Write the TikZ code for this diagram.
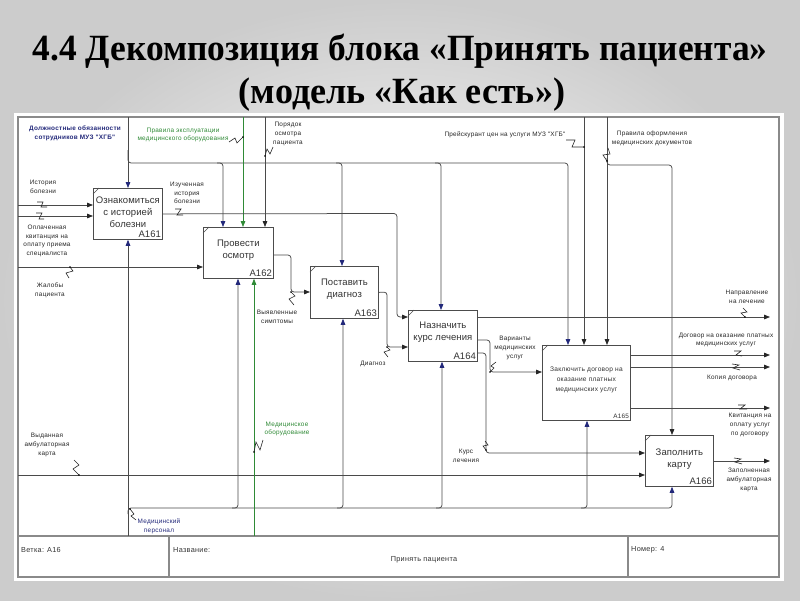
\documentclass[tikz,border=0pt]{standalone}
\usepackage{fontspec}
\usepackage{graphicx}
\setmainfont{Liberation Sans}
\newfontfamily\titlefont{Liberation Serif}
\newfontfamily\lblfont[LetterSpace=4]{Liberation Sans}
\newfontfamily\boxfont[LetterSpace=1]{Liberation Sans}
\usetikzlibrary{arrows.meta}
\definecolor{lnc}{HTML}{4A4A4A}
\definecolor{bluc}{HTML}{22287A}
\definecolor{grnc}{HTML}{2F8A36}
\definecolor{frc}{HTML}{8A8A8A}
\begin{document}
\begin{tikzpicture}[x=1pt,y=-1pt,
 ln/.style={draw=lnc, line width=0.75pt, rounded corners=3pt},
 arr/.style={ln, -{Triangle[length=6pt,width=4.6pt,color=black!85]}},
 barr/.style={ln, -{Triangle[length=6pt,width=4.6pt,color=bluc]}},
 garr/.style={draw=grnc, line width=0.75pt, rounded corners=3pt, -{Triangle[length=6pt,width=4.6pt,color=grnc]}},
 act/.style={draw=black!70, line width=0.8pt, fill=white, inner sep=0pt, anchor=north west},
 btxt/.style={font=\boxfont\fontsize{9.5}{12}\selectfont, align=center, inner sep=0pt, text=black!80},
 stxt/.style={font=\lblfont\fontsize{6.6}{10}\selectfont, align=center, inner sep=0pt, text=black!80},
 num/.style={font=\boxfont\fontsize{9.5}{11}\selectfont, inner sep=1.6pt, anchor=south east, text=black!80},
 snum/.style={font=\lblfont\fontsize{6.4}{8}\selectfont, inner sep=1.6pt, anchor=south east, text=black!80},
 lbl/.style={font=\lblfont\fontsize{6.4}{8.7}\selectfont, align=center, inner sep=0pt, text=black!85},
 blbl/.style={lbl, text=bluc},
 glbl/.style={lbl, text=grnc},
 sq/.style={draw=black!85, line width=0.6pt},
 tb/.style={font=\lblfont\fontsize{7.3}{9}\selectfont, inner sep=0pt, text=black!80},
 frm/.style={draw=frc, line width=1.1pt}
]
\useasboundingbox (0,0) rectangle (800,600);
\shade[inner color=white, outer color=black!20] (0,0) rectangle (800,600);

% title
\node[anchor=base, inner sep=0pt] (title1) at (400,60)
  {\resizebox{735pt}{\height}{\titlefont\bfseries\fontsize{37}{42}\selectfont 4.4 Декомпозиция блока «Принять пациента»}};
\node[anchor=base, inner sep=0pt] (title2) at (402,103)
  {\resizebox{326pt}{\height}{\titlefont\bfseries\fontsize{37}{42}\selectfont (модель «Как есть»)}};

% sheet
\fill[white] (14,113) rectangle (784,581);
\draw[frm] (18,117) rectangle (779,577);
\draw[frm] (18,536) -- (779,536);
\draw[frm] (169,536) -- (169,577);
\draw[frm] (628,536) -- (628,577);
\node[tb, anchor=west] (tbv) at (21,550) {Ветка: A16};
\node[tb, anchor=west] (tbn) at (173,550) {Название:};
\node[tb] (tbp) at (424,560) {Принять пациента};
\node[tb, anchor=west] (tbm) at (631,550) {Номер: 4};

% activity boxes
\node[act, minimum width=69pt, minimum height=51pt] (A161) at (93,188) {};
\node[act, minimum width=70pt, minimum height=51pt] (A162) at (203,227) {};
\node[act, minimum width=68pt, minimum height=52pt] (A163) at (310,266) {};
\node[act, minimum width=69pt, minimum height=51pt] (A164) at (408,310) {};
\node[act, minimum width=88pt, minimum height=75pt] (A165) at (542,345) {};
\node[act, minimum width=68pt, minimum height=51pt] (A166) at (645,435) {};
\foreach \b in {A161,A162,A163,A164,A165,A166}
  \draw[black!70, line width=0.6pt] ([yshift=-6pt]\b.north west) -- ([xshift=6pt]\b.north west);

\node[btxt] (t161) at ([yshift=2pt]A161.center) {Ознакомиться\\с историей\\болезни};
\node[btxt] (t162) at ([yshift=3pt]A162.center) {Провести\\осмотр};
\node[btxt] (t163) at ([yshift=3pt]A163.center) {Поставить\\диагноз};
\node[btxt] (t164) at ([yshift=4pt]A164.center) {Назначить\\курс лечения};
\node[stxt] (t165) at ([yshift=3pt]A165.center) {Заключить договор на\\оказание платных\\медицинских услуг};
\node[btxt] (t166) at ([yshift=2pt]A166.center) {Заполнить\\карту};
\node[num] (n161) at (A161.south east) {A161};
\node[num] (n162) at (A162.south east) {A162};
\node[num] (n163) at (A163.south east) {A163};
\node[num] (n164) at (A164.south east) {A164};
\node[snum] (n165) at (A165.south east) {A165};
\node[num] (n166) at (A166.south east) {A166};

% columns
\coordinate (x128) at (128,0);
\coordinate (x223) at (223,0);
\coordinate (x243) at (243,0);
\coordinate (x265) at (265,0);
\coordinate (x342) at (342,0);
\coordinate (x441) at (441,0);
\coordinate (x568) at (568,0);
\coordinate (x584) at (584,0);
\coordinate (x607) at (607,0);
\coordinate (x672) at (672,0);
\coordinate (x238) at (238,0);
\coordinate (x254) at (254,0);
\coordinate (x343) at (343,0);
\coordinate (x442) at (442,0);
\coordinate (x587) at (587,0);

% controls
\coordinate (c1) at (128,117);
\coordinate (c2) at (243,117);
\coordinate (c3) at (265,117);
\coordinate (c4) at (584,117);
\coordinate (c5) at (607,117);
\draw[barr] (c1) -- (x128 |- A161.north);
\draw[barr] (128,150) |- (568,163) -- (x568 |- A165.north);
\draw[barr] (217,163) -| (x223 |- A162.north);
\draw[barr] (336,163) -| (x342 |- A163.north);
\draw[barr] (435,163) -| (x441 |- A164.north);
\draw[garr] (c2) -- (x243 |- A162.north);
\draw[arr] (c3) -- (x265 |- A162.north);
\draw[arr] (c4) -- (x584 |- A165.north);
\draw[arr] (c5) -- (x607 |- A165.north);
\draw[arr] (607,158) |- (672,165) -- (x672 |- A166.north);

% inputs
\coordinate (i1) at (18,205);
\coordinate (i2) at (18,216);
\coordinate (i3) at (18,267);
\coordinate (i4) at (18,475);
\draw[arr] (i1) -- (A161.west |- i1);
\draw[arr] (i2) -- (A161.west |- i2);
\draw[arr] (i3) -- (A162.west |- i3);
\draw[arr] (i4) -- (A166.west |- i4);

% internal flows
\coordinate (o1a) at (397,213.5);
\coordinate (o1b) at (397,317);
\draw[arr] (A161.east) -- (o1a) -- (o1b) -- (A164.west |- o1b);
\coordinate (o2a) at (291,255);
\coordinate (o2b) at (291,292);
\draw[arr] (A162.east |- o2a) -- (o2a) -- (o2b) -- (A163.west |- o2b);
\coordinate (o3a) at (387,292);
\coordinate (o3b) at (387,347);
\draw[arr] (A163.east) -- (o3a) -- (o3b) -- (A164.west |- o3b);
\coordinate (o4a) at (490,340);
\coordinate (o4b) at (490,372);
\draw[arr] (A164.east |- o4a) -- (o4a) -- (o4b) -- (A165.west |- o4b);
\coordinate (o5a) at (486,353);
\coordinate (o5b) at (486,453);
\draw[arr] (A164.east |- o5a) -- (o5a) -- (o5b) -- (A166.west |- o5b);

% outputs
\coordinate (o6) at (770,317);
\coordinate (o7) at (770,355);
\coordinate (o8) at (770,367);
\coordinate (o9) at (770,408);
\coordinate (o10) at (770,461);
\draw[arr] (A164.east |- o6) -- (o6);
\draw[arr] (A165.east |- o7) -- (o7);
\draw[arr] (A165.east |- o8) -- (o8);
\draw[arr] (A165.east |- o9) -- (o9);
\draw[arr] (A166.east |- o10) -- (o10);

% mechanisms
\coordinate (m1) at (128,536);
\coordinate (m2) at (254,536);
\draw[barr] (m1) -- (x128 |- A161.south);
\draw[barr] (128,514) |- (672,508) -- (x672 |- A166.south);
\draw[barr] (232,508) -| (x238 |- A162.south);
\draw[barr] (337,508) -| (x343 |- A163.south);
\draw[barr] (436,508) -| (x442 |- A164.south);
\draw[barr] (581,508) -| (x587 |- A165.south);
\draw[garr] (m2) -- (x254 |- A162.south);

% labels
\node[blbl, font=\lblfont\bfseries\fontsize{6.4}{8.7}\selectfont] (Ldol) at (75,133) {Должностные обязанности\\сотрудников МУЗ "ХГБ"};
\node[glbl] (Lexp) at (183,135) {Правила эксплуатации\\медицинского оборудования};
\node[lbl] (Lpor) at (288,134) {Порядок\\осмотра\\пациента};
\node[lbl] (Lpre) at (505,135) {Прейскурант цен на услуги МУЗ "ХГБ"};
\node[lbl] (Lofo) at (652,138) {Правила оформления\\медицинских документов};
\node[lbl] (List) at (43,187) {История\\болезни};
\node[lbl] (Lopl) at (47,241) {Оплаченная\\квитанция на\\оплату приема\\специалиста};
\node[lbl] (Lzha) at (50,290) {Жалобы\\пациента};
\node[lbl] (Lvyd) at (47,445) {Выданная\\амбулаторная\\карта};
\node[lbl] (Lizu) at (187,193) {Изученная\\история\\болезни};
\node[lbl] (Lvyy) at (277,317) {Выявленные\\симптомы};
\node[lbl] (Ldia) at (373,364) {Диагноз};
\node[lbl] (Lvar) at (515,348) {Варианты\\медицинских\\услуг};
\node[lbl] (Lkur) at (466,456) {Курс\\лечения};
\node[lbl] (Lnap) at (747,297) {Направление\\на лечение};
\node[lbl] (Ldog) at (726,340) {Договор на оказание платных\\медицинских услуг};
\node[lbl] (Lkop) at (732,378) {Копия договора};
\node[lbl] (Lkvi) at (750,425) {Квитанция на\\оплату услуг\\по договору};
\node[lbl] (Lzap) at (749,480) {Заполненная\\амбулаторная\\карта};
\node[blbl] (Lper) at (159,526) {Медицинский\\персонал};
\node[glbl] (Lobo) at (287,429) {Медицинское\\оборудование};

% squiggles
\draw[sq] (37,202) -- (43,202) -- (41,207) -- (47,207);
\draw[sq] (36,213) -- (42,213) -- (39,219) -- (44,219);
\draw[sq] (70,267) -- (73,271) -- (66,273) -- (69,278);
\draw[sq] (74,460) -- (79,465) -- (73,469) -- (79,475);
\draw[sq] (175,209) -- (181,209) -- (177,215) -- (183,215);
\draw[sq] (291,292) -- (295,296) -- (289,299) -- (294,305);
\draw[sq] (387,347) -- (390,350) -- (384,352) -- (388,357);
\draw[sq] (490,372) -- (494,368) -- (491,366) -- (496,362);
\draw[sq] (486,450) -- (483,446) -- (488,445) -- (485,441);
\draw[sq] (745,317) -- (741,313) -- (747,312) -- (743,308);
\draw[sq] (734,351) -- (741,351) -- (736,355) -- (742,356);
\draw[sq] (732,364) -- (739,365) -- (733,368) -- (740,370);
\draw[sq] (738,405) -- (745,405) -- (740,409) -- (747,409);
\draw[sq] (734,458) -- (741,459) -- (735,462) -- (742,464);
\draw[sq] (130,509) -- (134,514) -- (131,516) -- (136,520);
\draw[sq] (254,452) -- (256,442) -- (260,450) -- (263,440);
\draw[sq] (229,142) -- (235,138) -- (237,143) -- (243,137);
\draw[sq] (265,156) -- (267,149) -- (270,154) -- (273,147);
\draw[sq] (566,140) -- (575,140) -- (572,147) -- (584,147);
\draw[sq] (608,148) -- (610,154) -- (603,155) -- (607,161);
\foreach \p in {(70,267),(79,475),(291,292),(387,347),(490,372),(486,450),(745,317),(130,509),(254,452),(243,137),(265,156),(584,147),(607,161)}
  \fill[black] \p circle (0.9);
\end{tikzpicture}
\end{document}
